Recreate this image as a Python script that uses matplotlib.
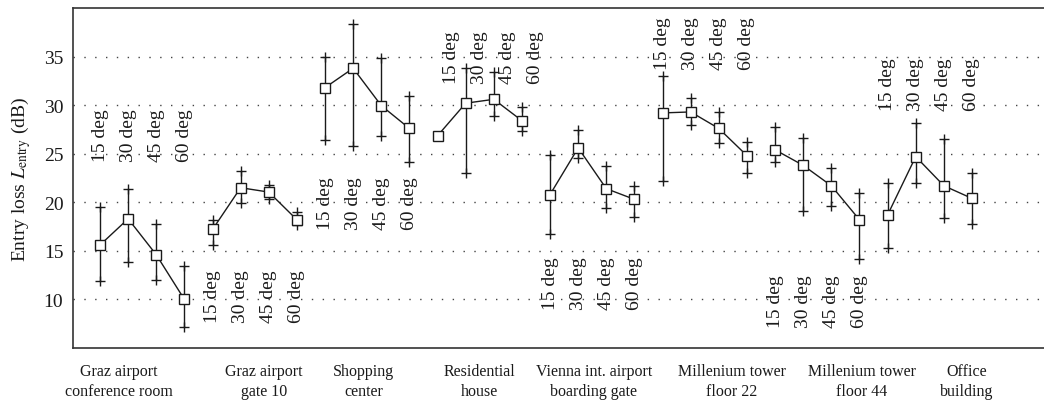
import numpy as np
import matplotlib
matplotlib.use("Agg")
import matplotlib.pyplot as plt
import matplotlib.transforms as mtransforms

plt.rcParams['font.family'] = ['Liberation Serif', 'DejaVu Serif']
plt.rcParams['mathtext.fontset'] = 'stix'

# Measurement sites (4 elevation angles each)
sites = ["Graz airport\nconference room", "Graz airport\ngate 10", "Shopping\ncenter",
         "Residential\nhouse", "Vienna int. airport\nboarding gate", "Millenium tower\nfloor 22",
         "Millenium tower\nfloor 44", "Office\nbuilding"]
angles = ["15 deg", "30 deg", "45 deg", "60 deg"]

# Mean entry loss (dB), per site, per angle
entry_loss = [
    [15.6, 18.3, 14.6, 10.0],
    [17.2, 21.5, 21.05, 18.2],
    [31.8, 33.8, 29.95, 27.6],
    [26.85, 30.2, 30.6, 28.4],
    [20.8, 25.6, 21.4, 20.3],
    [29.2, 29.3, 27.6, 24.8],
    [25.4, 23.8, 21.7, 18.2],
    [18.7, 24.7, 21.7, 20.4],
]
# Lower / upper ends of the spread
loss_low = [
    [11.9, 13.9, 11.95, 7.2],
    [15.6, 19.9, 20.3, 17.7],
    [26.4, 25.8, 26.85, 24.1],
    [np.nan, 23.0, 28.9, 27.3],
    [16.7, 24.6, 19.4, 18.5],
    [22.2, 28.0, 26.1, 23.0],
    [24.1, 19.1, 19.6, 14.2],
    [15.3, 21.95, 18.4, 17.8],
]
loss_high = [
    [19.5, 21.4, 17.8, 13.4],
    [18.2, 23.2, 21.75, 19.0],
    [35.0, 38.4, 34.9, 30.9],
    [np.nan, 33.8, 33.4, 29.8],
    [24.9, 27.4, 23.7, 21.7],
    [33.0, 30.75, 29.3, 26.2],
    [27.7, 26.6, 23.5, 21.0],
    [22.0, 28.2, 26.5, 23.0],
]

# where the angle labels sit: (above/below, y anchor, x shift)
angle_label_pos = [("above", 24.2, 0), ("below", 13.1, 0), ("below", 22.65, 0),
                   ("above", 32.3, 0.5), ("below", 14.4, 0), ("above", 33.7, 0),
                   ("below", 12.6, 0), ("above", 29.5, 0)]
site_label_x = [0.68, 5.83, 9.38, 13.5, 17.56, 22.47, 27.09, 30.82]

fig = plt.figure(figsize=(10.44, 4.02), dpi=100)
ax = fig.add_axes([73 / 1044, 1 - 349 / 402, 1 - 73 / 1044, 340 / 402])

ink = '#1a1a1a'
for g in range(len(sites)):
    x = np.arange(4) + 4 * g
    y = np.array(entry_loss[g])
    lo = np.array(loss_low[g])
    hi = np.array(loss_high[g])
    ax.vlines(x, lo, hi, color=ink, lw=1.0, zorder=2)
    ax.plot(x, lo, '+', color=ink, ms=7, mew=1.0, zorder=3)
    ax.plot(x, hi, '+', color=ink, ms=7, mew=1.0, zorder=3)
    ax.plot(x, y, '-s', color=ink, lw=1.0, ms=7, mfc='white', mec=ink, mew=1.0, zorder=4)

    side, yv, dx = angle_label_pos[g]
    for k, a in enumerate(angles):
        ax.text(x[k] + dx, yv, a, rotation=90, ha='center',
                va='bottom' if side == "above" else 'top', fontsize=14, color=ink)

trans = mtransforms.blended_transform_factory(ax.transData, ax.transAxes)
for g, name in enumerate(sites):
    ax.text(site_label_x[g], -0.045, name, transform=trans, ha='center', va='top',
            fontsize=11.5, color=ink, linespacing=1.3)

ax.set_xlim(-0.96, 33.56)
ax.set_ylim(5, 40)
ax.set_yticks([10, 15, 20, 25, 30, 35])
ax.set_xticks([])
ax.tick_params(axis='y', length=0, pad=7, labelsize=14, labelcolor=ink)
ax.yaxis.grid(True, color='#444444', lw=1.0, linestyle=(0, (1, 6.8)))
ax.set_axisbelow(True)
ax.set_ylabel(r"Entry loss $L_{\mathrm{entry}}$ (dB)", fontsize=14, color=ink, labelpad=8)
ax.spines['right'].set_visible(False)
for s in ['left', 'top', 'bottom']:
    ax.spines[s].set_color('#333333')
    ax.spines[s].set_linewidth(1.2)

fig.savefig("out.png", dpi=100)
